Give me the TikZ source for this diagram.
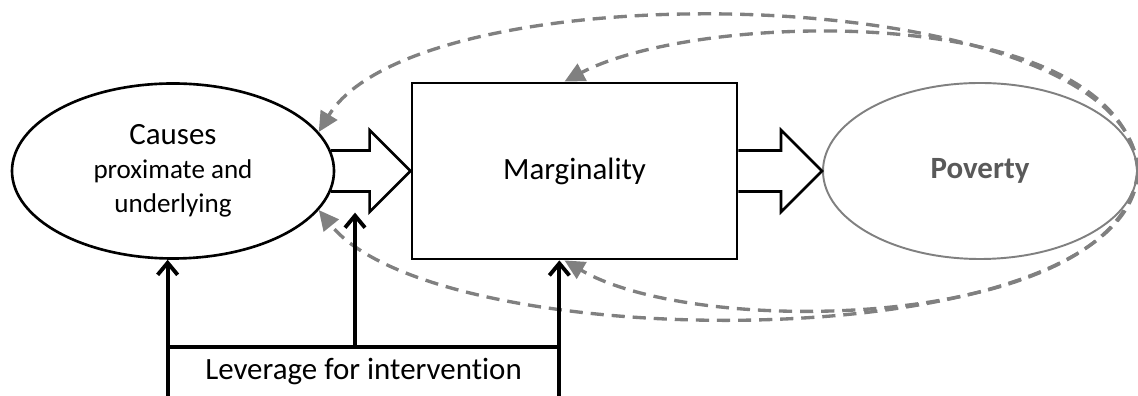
\documentclass[tikz,border=0pt]{standalone}
\usepackage{fontspec}
\setmainfont{Carlito}[Ligatures=NoCommon]
\usetikzlibrary{calc,shapes.geometric,arrows.meta}
\tikzset{
    oval/.style={ellipse,draw,line width=1.5pt,minimum width=6.44cm,minimum height=3.5cm,inner sep=0pt,align=center},
    rect/.style={draw,line width=1.6pt,minimum width=6.5cm,minimum height=3.52cm,inner sep=0pt},
    block/.style={line width=1.5pt,line join=miter},
    feedback/.style={draw=gray,line width=1.9pt,dash pattern=on 7.5pt off 4.5pt,-{Triangle[length=4mm,width=3.8mm,fill=gray]}},
    lever/.style={line width=2.2pt,-{Straight Barb[length=2.4mm,width=4mm]}},
  }

\begin{document}
\begin{tikzpicture}[font=\fontsize{17.6}{19.3}\selectfont]
				  %cadre fixe : 1138x396 px, 1px = 0.02cm
				  %retours en pointilles depuis poverty.east
				  \useasboundingbox (0,0) rectangle (22.76,7.92);
				  \node[oval,font=\fontsize{15.4}{19.3}\selectfont](causes) at (3.46,4.5){{\fontsize{17.6}{19.3}\selectfont Causes}\\proximate and\\underlying};
				  \node[rect](marg) at (11.49,4.5){Marginality};
				  \node[oval,draw=gray,line width=1.1pt,minimum width=6.28cm,minimum height=3.52cm,text=black!65,font=\fontsize{17.6}{19.3}\selectfont\bfseries](poverty) at (19.6,4.5){Poverty};
				  \node[minimum width=7.82cm,minimum height=0.98cm,inner sep=0pt](leverage) at (7.27,0.49){Leverage for intervention};
				  \draw[block] ($(causes.east)+(-0.09,0.41)$) -- ($(marg.west)+(-0.82,0.41)$) -- ($(marg.west)+(-0.82,0.82)$) -- (marg.west) -- ($(marg.west)+(-0.82,-0.82)$) -- ($(marg.west)+(-0.82,-0.41)$) -- ($(causes.east)+(-0.09,-0.41)$);
				  \draw[block] ($(marg.east)+(0,0.41)$) -- ($(poverty.west)+(-0.82,0.41)$) -- ($(poverty.west)+(-0.82,0.82)$) -- (poverty.west) -- ($(poverty.west)+(-0.82,-0.82)$) -- ($(poverty.west)+(-0.82,-0.41)$) -- ($(marg.east)+(0,-0.41)$);
				  \draw[feedback] (poverty.east) .. controls (22.6,8.32) and (8.4,8.62) .. (causes.15);
				  \draw[feedback] (poverty.east) .. controls (22.4,7.92) and (14.0,7.72) .. ([xshift=-2mm]marg.north);
				  \draw[feedback] (poverty.east) .. controls (22.6,0.72) and (8.8,0.72) .. (causes.-15);
				  \draw[feedback] (poverty.east) .. controls (22.4,1.32) and (14.0,1.12) .. ([xshift=-2mm]marg.south);
				  \draw[line width=2.2pt] (leverage.north west) -- (leverage.north east);
				  \draw[lever] (leverage.south west) -- (leverage.south west |- causes.south);
				  \draw[lever] (leverage.south east) -- (leverage.south east |- marg.south);
				  \draw[lever] ($(leverage.north)+(-0.17,0)$) -- ++(0,2.68);
				  \end{tikzpicture}
\end{document}
